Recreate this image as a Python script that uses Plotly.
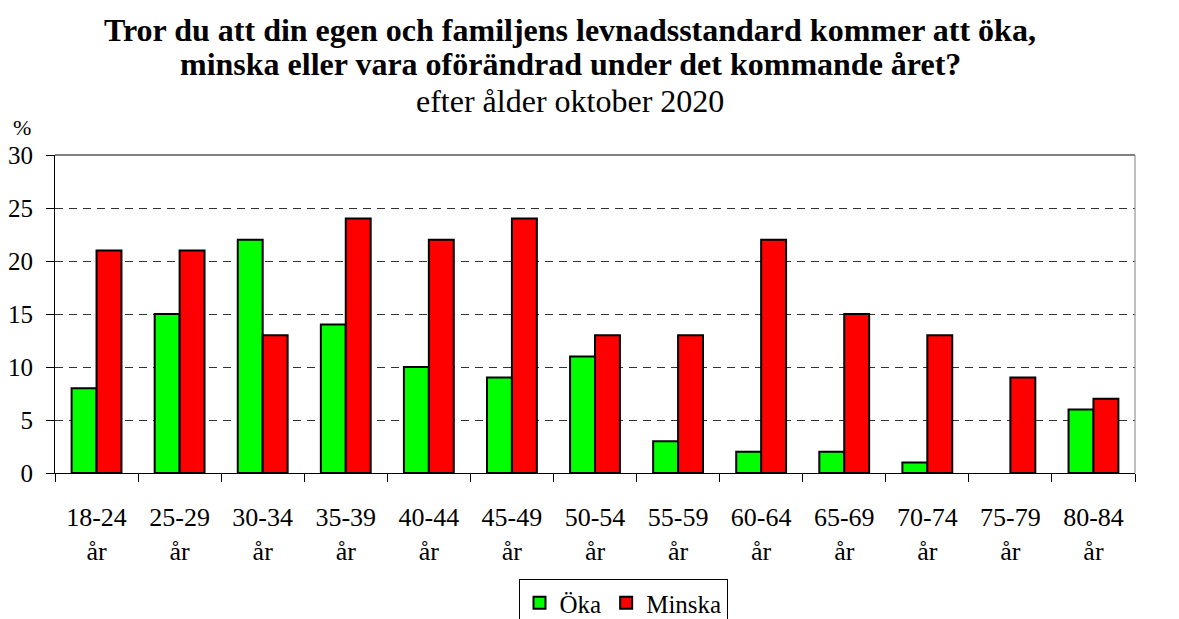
import plotly.graph_objects as go

categories = ["18-24<br>år", "25-29<br>år", "30-34<br>år", "35-39<br>år", "40-44<br>år",
              "45-49<br>år", "50-54<br>år", "55-59<br>år", "60-64<br>år", "65-69<br>år",
              "70-74<br>år", "75-79<br>år", "80-84<br>år"]
oka = [8, 15, 22, 14, 10, 9, 11, 3, 2, 2, 1, None, 6]
minska = [21, 21, 13, 24, 22, 24, 13, 13, 22, 15, 13, 9, 7]
y_ticks = [0, 5, 10, 15, 20, 25, 30]

FONT = "Liberation Serif, Times New Roman, serif"

fig = go.Figure()
fig.add_trace(go.Bar(x=categories, y=oka, name="Öka",
                     marker=dict(color="#00FF00", line=dict(color="black", width=2))))
fig.add_trace(go.Bar(x=categories, y=minska, name="Minska",
                     marker=dict(color="#FF0000", line=dict(color="black", width=2))))

# page body has an 8px margin, so figure coords = screen coords - 8
H = 650
fig.update_layout(
    width=1179, height=H,
    margin=dict(l=47, r=52, t=147, b=H - 465, autoexpand=False),
    paper_bgcolor="white", plot_bgcolor="white",
    font=dict(family=FONT, color="black", size=24),
    barmode="group", bargap=0.4, bargroupgap=0,
    showlegend=True,
    legend=dict(orientation="h", x=(623 - 55) / 1080, xanchor="center",
                y=(465 - 571) / 318, yanchor="top",
                bordercolor="black", borderwidth=1, font=dict(size=25),
                itemwidth=30, tracegroupgap=0),
    xaxis=dict(type="category", tickson="boundaries", ticks="outside", ticklen=8,
               tickcolor="black", showline=True, linecolor="black", linewidth=1,
               tickfont=dict(size=26), showgrid=False, ticklabelstandoff=21,
               automargin=False),
    yaxis=dict(range=[0, 30], tickvals=y_ticks, ticks="outside", ticklen=8,
               tickcolor="black", showline=True, linecolor="black", linewidth=1,
               showgrid=True, gridcolor="#333333", griddash="8px,6px", gridwidth=1,
               tickfont=dict(size=25), zeroline=False, ticklabelstandoff=8,
               automargin=False),
)

# gray top and right frame
fig.add_shape(type="line", xref="paper", yref="paper", x0=0, x1=1, y0=1, y1=1,
              line=dict(color="#808080", width=2))
fig.add_shape(type="line", xref="paper", yref="paper", x0=1, x1=1, y0=0, y1=1,
              line=dict(color="#808080", width=1))

tx = (570 - 55) / 1080
fig.add_annotation(text="<b>Tror du att din egen och familjens levnadsstandard kommer att öka,</b>",
                   xref="paper", yref="paper", x=tx, y=1.0, xanchor="center", yanchor="middle",
                   yshift=155 - 30, showarrow=False, font=dict(size=32))
fig.add_annotation(text="<b>minska eller vara oförändrad under det kommande året?</b>",
                   xref="paper", yref="paper", x=tx, y=1.0, xanchor="center", yanchor="middle",
                   yshift=155 - 64, showarrow=False, font=dict(size=32))
fig.add_annotation(text="efter ålder oktober 2020",
                   xref="paper", yref="paper", x=tx, y=1.0, xanchor="center", yanchor="middle",
                   yshift=155 - 101, showarrow=False, font=dict(size=32))
fig.add_annotation(text="%", xref="paper", yref="paper", x=0, y=1.0, xanchor="center",
                   yanchor="middle", xshift=22 - 55, yshift=155 - 127, showarrow=False,
                   font=dict(size=22))

fig.write_html("out.html")
